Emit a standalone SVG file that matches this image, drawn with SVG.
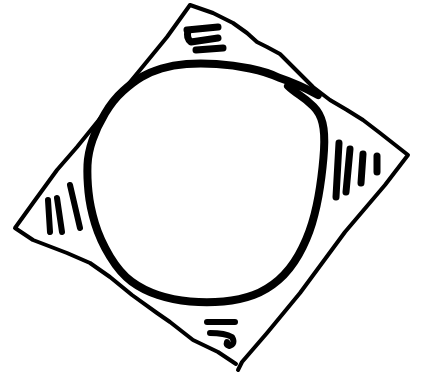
<svg xmlns="http://www.w3.org/2000/svg" width="424" height="377" viewBox="0 0 424 377">
<style>
.sq{fill:none;stroke:#000;stroke-width:4;stroke-linejoin:round;stroke-linecap:round}
.ci{fill:none;stroke:#000;stroke-width:8;stroke-linejoin:round;stroke-linecap:round}
.h{fill:none;stroke:#000;stroke-width:7;stroke-linecap:round;stroke-linejoin:round}
.hs{fill:none;stroke:#000;stroke-width:6;stroke-linecap:round;stroke-linejoin:round}
</style>
<rect width="424" height="377" fill="#fff"/>
<path class="sq" d="M190,5 L213,13 L233,23 L247,33 L257,42 L267,47 L280,54 L293,67 L313,87 L330,100 L347,110 L363,120 L380,133 L408,155 L385,185 L345,232 L300,293 L267,333 L242,362 L238,370 M236,364 L218,352 L193,340 L170,322 L157,313 L132,295 L110,277 L90,263 L67,253 L33,240 L15,228 L33,203 L57,170 L77,147 L107,110 L140,70 L167,37 L190,5"/>
<path class="ci" d="M318,95 Q298,84 278.5,77.5 Q267,72 250,68.5 Q233,65 216.5,64 Q200,63 186.5,64 Q173,65 161.5,68.5 Q150,72 141.5,77 Q133,82 123,91 Q113,100 105,113.5 Q97,127 92.5,140 Q88,153 87.5,165 Q87,177 88.5,192 Q90,207 95,223.5 Q100,240 110,256.5 Q120,273 131.5,281.5 Q143,290 158,295 Q173,300 190,301.5 Q207,303 223.5,301.5 Q240,300 253.5,295 Q267,290 278.5,280 Q290,270 298.5,255 Q307,240 312,223.5 Q317,207 320,187 Q323,167 324,150 Q325,133 322.5,123 Q320,113 313.5,106.5 Q307,100 299.5,95 Q292,90 288,86"/>
<g id="hatch-top">
<path class="h" d="M187,30 L218,27"/>
<path class="h" d="M188,31 Q186,38 191,42 L218,38"/>
<path class="h" d="M196,50 L223,48"/>
</g>
<g id="hatch-right">
<path class="h" d="M339,143 L336,197"/>
<path class="h" d="M350,149 L346,192"/>
<path class="h" d="M363,154 L361,183"/>
<path class="h" d="M377,156 L377,172"/>
</g>
<g id="hatch-left">
<path class="hs" d="M48,200 L50,232"/>
<path class="hs" d="M57,198 L62,232"/>
<path class="hs" d="M70,185 L80,228"/>
</g>
<g id="hatch-bottom">
<path class="hs" d="M207,322 L235,322"/>
<path class="hs" d="M210,333 Q225,333 232,337 Q236,344 229,346 Q226,345 227,342"/>
</g>
</svg>
